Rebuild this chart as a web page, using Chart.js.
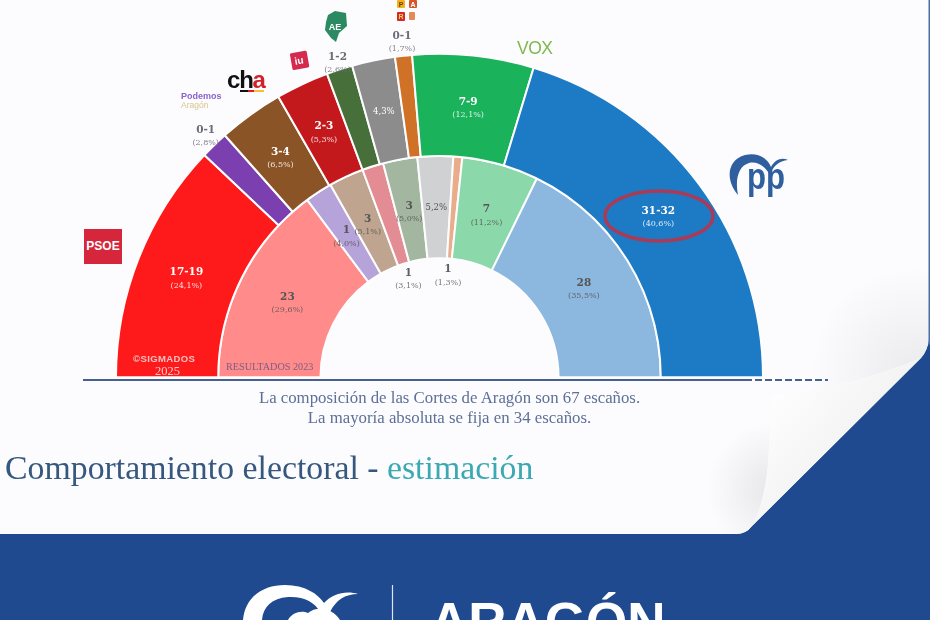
<!DOCTYPE html>
<html lang="es">
<head>
<meta charset="utf-8">
<title>Comportamiento electoral - estimación</title>
<script src="https://cdn.jsdelivr.net/npm/chart.js@4"></script>
<style>
  html, body { margin: 0; padding: 0; background: #1f4a90; }
  #page { position: relative; width: 930px; height: 620px; overflow: hidden; background: #1f4a90; }
  #page > svg, #page > .chart-box { position: absolute; left: 0; top: 0; }
  .chart-box { width: 930px; height: 620px; }
  .txt { position: absolute; white-space: nowrap; line-height: 1; }
  .serif { font-family: "Liberation Serif", serif; }
  .note { left: 0; width: 899px; text-align: center; font-size: 16.8px; color: #5d7097; }
  .title { left: 5px; top: 451px; font-size: 33.8px; color: #36587f; }
  .title span { color: #3aa9b3; }
  .logo { font-family: "Liberation Sans", sans-serif; font-weight: 700; }
</style>
</head>
<body>
<div id="page">
  <svg width="930" height="620" viewBox="0 0 930 620">
    <defs>
      <linearGradient id="flap" x1="0.15" y1="0.1" x2="0.75" y2="0.62">
        <stop offset="0" stop-color="#ffffff"/>
        <stop offset="0.7" stop-color="#f4f4f5"/>
        <stop offset="1" stop-color="#d9d9db"/>
      </linearGradient>
      <radialGradient id="under" gradientUnits="userSpaceOnUse" cx="775" cy="490" r="68">
        <stop offset="0" stop-color="#e6e6e8"/>
        <stop offset="1" stop-color="#fcfcfe"/>
      </radialGradient>
      <radialGradient id="top-shade" gradientUnits="userSpaceOnUse" cx="915" cy="372" r="105">
        <stop offset="0" stop-color="#ebebed"/>
        <stop offset="1" stop-color="#fcfcfe"/>
      </radialGradient>
    </defs>
    <!-- sheet with the turned corner -->
    <path d="M0 0H929V338Q928 350 921 358L752 526Q746 534 736 534H0Z" fill="#fcfcfe"/>
    <path d="M705 534V395H772L768 465Q764 505 752 526Q746 534 736 534Z" fill="url(#under)"/>
    <path d="M772 395Q850 388 921 358Q928 350 929 338V240H780Z" fill="url(#top-shade)"/>
    <path d="M772 395Q850 388 921 358L752 526Q764 505 768 465Z" fill="url(#flap)"/>
    <rect x="928.5" y="0" width="1.5" height="345" fill="#4b6ea8"/>
    <!-- base rule -->
    <line x1="83" y1="380" x2="745" y2="380" stroke="#46618f" stroke-width="2"/>
    <line x1="745" y1="380" x2="828" y2="380" stroke="#46618f" stroke-width="2" stroke-dasharray="7 3"/>
  </svg>

  <div class="chart-box"><canvas id="parliament" width="930" height="620"></canvas></div>

  <svg width="930" height="620" viewBox="0 0 930 620">
    <!-- PP logo -->
    <path d="M738 195C725 180 727 160 745 155C758 152 767 158 771 167C775 159 782 157 788 160C779 161 773 166 770 175C765 166 757 161 749 163C738 166 735 180 738 195Z" fill="#2f5f9f"/>
    <text x="747" y="189" font-family="Liberation Sans" font-weight="700" font-size="36" textLength="38" lengthAdjust="spacingAndGlyphs" fill="#2f5f9f">pp</text>
    <!-- highlight around the PP estimate -->
    <ellipse cx="659" cy="216" rx="54" ry="25" fill="none" stroke="#a93b56" stroke-width="3.5"/>
    <!-- AE -->
    <path d="M328 15L335 11L346 13L347 26L339 33L336 42L331 38L325 30L326 22Z" fill="#2c8a63"/>
    <text x="335" y="30" text-anchor="middle" font-family="Liberation Sans" font-weight="700" font-size="9" fill="#ffffff">AE</text>
    <!-- IU -->
    <rect x="291" y="52" width="17" height="17" rx="1.5" transform="rotate(-10 299 60)" fill="#d42a4f"/>
    <text x="299" y="64" text-anchor="middle" font-family="Liberation Sans" font-weight="700" font-size="10" transform="rotate(-10 299 60)" fill="#ffffff">iu</text>
    <!-- PAR tiles -->
    <rect x="397" y="0" width="8" height="8" rx="1" fill="#f2b21b"/>
    <rect x="409" y="0" width="8" height="8" rx="1" fill="#d9542b"/>
    <rect x="397" y="12" width="8" height="9" rx="1" fill="#d3272b"/>
    <rect x="409" y="12" width="6" height="8" rx="1" fill="#e58a57"/>
    <text x="401" y="7" text-anchor="middle" font-family="Liberation Sans" font-weight="700" font-size="7" fill="#7a3b00">P</text>
    <text x="413" y="7" text-anchor="middle" font-family="Liberation Sans" font-weight="700" font-size="7" fill="#ffffff">A</text>
    <text x="401" y="19" text-anchor="middle" font-family="Liberation Sans" font-weight="700" font-size="7" fill="#f5d050">R</text>
    <!-- cha stripe -->
    <rect x="240" y="90" width="8" height="2" fill="#111"/>
    <rect x="248" y="90" width="6" height="2" fill="#d4202a"/>
    <rect x="254" y="90" width="10" height="2" fill="#f2c230"/>
    <!-- footer -->
    <path d="M243 620C245 598 262 585 285 585C305 585 318 594 324 603C332 594 346 590 358 594C345 594 336 600 330 612L320 612C315 602 303 596 288 597C272 598 263 607 262 620Z" fill="#ffffff"/>
    <path d="M288 620C292 612 302 610 308 613C316 606 332 607 340 620Z" fill="#ffffff"/>
    <line x1="392.5" y1="585" x2="392.5" y2="620" stroke="#dfe6f2" stroke-width="1.2"/>
  </svg>

  <div class="txt logo" style="left:84px;top:229px;width:38px;height:35px;background:#d6263c;color:#fff;font-size:12px;line-height:35px;text-align:center;">PSOE</div>
  <div class="txt logo" style="left:517px;top:40px;font-size:17.5px;letter-spacing:-0.5px;color:#7fb84e;font-weight:400;">VOX</div>
  <div class="txt logo" style="left:227px;top:68px;font-size:24px;letter-spacing:-1.2px;color:#111;">ch<span style="color:#d4202a">a</span></div>
  <div class="txt logo" style="left:181px;top:92px;font-size:9px;color:#8a63cc;">Podemos</div>
  <div class="txt logo" style="left:181px;top:101px;font-size:8.5px;color:#d8c48c;font-weight:400;">Aragón</div>

  <div class="txt serif" style="left:133px;top:354px;font-family:'Liberation Sans';font-weight:700;font-size:9.5px;letter-spacing:0.4px;color:#f5c0c0;">©SIGMADOS</div>
  <div class="txt serif" style="left:155px;top:365px;font-size:12.5px;color:#f9cccc;">2025</div>
  <div class="txt serif" style="left:226px;top:362px;font-size:10.2px;color:#7c5e85;">RESULTADOS 2023</div>

  <div class="txt serif note" style="top:390px;">La composición de las Cortes de Aragón son 67 escaños.</div>
  <div class="txt serif note" style="top:410px;">La mayoría absoluta se fija en 34 escaños.</div>
  <div class="txt serif title">Comportamiento electoral - <span>estimación</span></div>
  <div class="txt logo" style="left:430px;top:603px;font-size:53px;line-height:38px;color:#fff;">ARAGÓN</div>
</div>

<script>
// 2025 estimate, outer ring
var parties2025 = ["PSOE", "Podemos", "CHA", "IU", "Aragón Existe", "Otros", "PAR", "Vox", "PP"];
var share2025 = [24.1, 2.8, 6.5, 5.3, 2.6, 4.3, 1.7, 12.1, 40.6];
var seats2025 = ["17-19", "0-1", "3-4", "2-3", "1-2", "", "0-1", "7-9", "31-32"];
var shareText2025 = ["(24,1%)", "(2,8%)", "(6,5%)", "(5,3%)", "(2,6%)", "4,3%", "(1,7%)", "(12,1%)", "(40,6%)"];
var colors2025 = ["#fe1a1a", "#7b3fb0", "#8a5427", "#c4191c", "#466f3a", "#8c8c8c", "#cf7127", "#1bb25c", "#1d7ac4"];

// 2023 results, inner ring
var share2023 = [29.6, 4.0, 5.1, 3.1, 5.0, 5.2, 1.3, 11.2, 35.5];
var seats2023 = ["23", "1", "3", "1", "3", "", "1", "7", "28"];
var shareText2023 = ["(29,6%)", "(4,0%)", "(5,1%)", "(3,1%)", "(5,0%)", "5,2%", "(1,3%)", "(11,2%)", "(35,5%)"];
var colors2023 = ["#ff8b8b", "#b5a3d9", "#bfa48f", "#e38c93", "#a3b6a0", "#cfd1d3", "#e9ad8b", "#8bd8ab", "#8cb8df"];

// slices too thin for their label: radius the label sits at instead of the ring middle
var labelRadius2025 = [null, 336, null, null, 330, null, 337, null, null];
var labelRadius2023 = [null, null, null, 103, null, null, 102, null, null];

function textColor(datasetIndex, outside) {
  if (outside) return datasetIndex === 0 ? "#6f6a78" : "#5c5f66";
  return datasetIndex === 0 ? "#ffffff" : "#555555";
}

var sliceLabels = {
  id: "sliceLabels",
  afterDatasetsDraw: function (chart) {
    var ctx = chart.ctx;
    var sets = [
      { seats: seats2025, text: shareText2025, radius: labelRadius2025 },
      { seats: seats2023, text: shareText2023, radius: labelRadius2023 },
    ];
    ctx.save();
    ctx.textAlign = "center";
    ctx.textBaseline = "middle";
    sets.forEach(function (set, d) {
      chart.getDatasetMeta(d).data.forEach(function (arc, i) {
        var p = arc.getProps(["x", "y", "startAngle", "endAngle", "innerRadius", "outerRadius"], true);
        var mid = (p.startAngle + p.endAngle) / 2;
        var outside = set.radius[i] !== null;
        var r = outside ? set.radius[i] : (p.innerRadius + p.outerRadius) / 2;
        var x = p.x + Math.cos(mid) * r;
        var y = p.y + Math.sin(mid) * r + (outside ? 1 : 3);
        ctx.fillStyle = textColor(d, outside);
        if (set.seats[i] === "") {
          ctx.font = "8.5px 'DejaVu Serif'";
          ctx.fillText(set.text[i], x, y - 2);
          return;
        }
        ctx.font = "bold 10.5px 'DejaVu Serif'";
        ctx.fillText(set.seats[i], x, y - 7);
        ctx.globalAlpha = 0.85;
        ctx.font = "8px 'DejaVu Serif'";
        ctx.fillText(set.text[i], x, y + 6);
        ctx.globalAlpha = 1;
      });
    });
    ctx.restore();
  },
};

new Chart(document.getElementById("parliament"), {
  type: "doughnut",
  data: {
    labels: parties2025,
    datasets: [
      { label: "2025", data: share2025, backgroundColor: colors2025 },
      { label: "2023", data: share2023, backgroundColor: colors2023 },
    ],
  },
  options: {
    responsive: false,
    animation: false,
    rotation: -90,
    circumference: 180,
    radius: 323.5,
    cutout: "36.8%",
    borderColor: "#fdfdfe",
    borderWidth: 2,
    layout: { padding: { left: 0, right: 51, top: 54, bottom: 243 } },
    plugins: { legend: { display: false }, tooltip: { enabled: false } },
  },
  plugins: [sliceLabels],
});
</script>
</body>
</html>
